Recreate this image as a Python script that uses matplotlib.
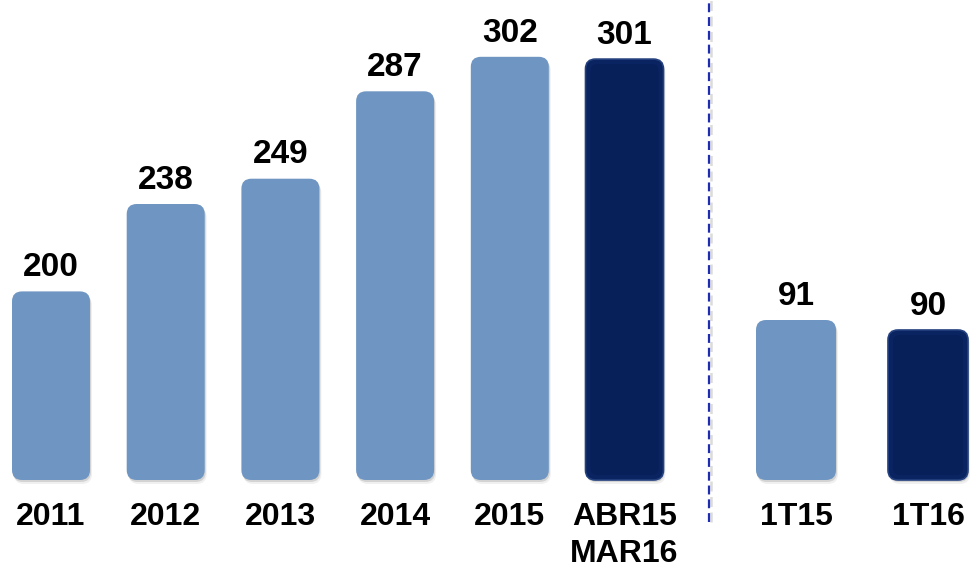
import matplotlib.pyplot as plt
from matplotlib.patches import FancyBboxPatch
from matplotlib.lines import Line2D
import numpy as np

plt.rcParams['font.family'] = ['Liberation Sans', 'DejaVu Sans']

# Série anual (esquerda) e trimestral (direita)
anos = ['2011', '2012', '2013', '2014', '2015', 'ABR15\nMAR16']
valores_anos = [200, 238, 249, 287, 302, 301]
cores_anos = ['#6f96c2', '#6f96c2', '#6f96c2', '#6f96c2', '#6f96c2', '#0a2361']

trimestres = ['1T15', '1T16']
valores_tri = [91, 90]
cores_tri = ['#6f96c2', '#0a2361']

W, H = 972, 570
BASE_PX = 480  # linha de base das barras (px a partir do topo)


def barras_arredondadas(ax, labels, valores, cores, base, largura):
    x = np.arange(len(valores))
    alturas = np.array(valores) - base
    bars = ax.bar(x, alturas, bottom=base, width=largura, color=cores)

    # tamanho de 1 px em unidades de dados, para os cantos arredondados
    inv = ax.transData.inverted()
    p0 = inv.transform((0, 0))
    p1 = inv.transform((1, 1))
    ux, uy = p1 - p0
    estilo = f"round,pad=0,rounding_size={10 * ux}"
    aspect = uy / ux

    for b, cor, val in zip(bars, cores, valores):
        x0, y0 = b.get_x(), b.get_y()
        w, h = b.get_width(), b.get_height()
        b.remove()
        # sombra suave
        for k, a in [(2, 0.16), (4, 0.08)]:
            ax.add_patch(FancyBboxPatch((x0 + 0.5 * k * ux, y0 - k * uy), w, h,
                                        boxstyle=estilo, mutation_aspect=aspect,
                                        fc='#404040', ec='none', alpha=a,
                                        zorder=1, clip_on=False))
        ax.add_patch(FancyBboxPatch((x0, y0), w, h, boxstyle=estilo,
                                    mutation_aspect=aspect, fc=cor, ec='none',
                                    zorder=2, clip_on=False))
        if cor == '#0a2361':
            # brilho do bisel nas barras escuras
            ax.add_patch(FancyBboxPatch((x0 + 5 * ux, y0 + 5 * uy), w - 10 * ux, h - 10 * uy,
                                        boxstyle=f"round,pad=0,rounding_size={7 * ux}",
                                        mutation_aspect=aspect, fc='#08205a', ec='none',
                                        zorder=3, clip_on=False))
            ax.add_patch(FancyBboxPatch((x0, y0), w, h, boxstyle=estilo,
                                        mutation_aspect=aspect, fc='none', ec='#24407e',
                                        lw=1.2, zorder=3, clip_on=False))
        ax.annotate(f'{val}', (x0 + w / 2, y0 + h), xytext=(0, 11),
                    textcoords='offset points', ha='center', va='baseline',
                    fontsize=24, fontweight='bold', color='black')

    ax.set_xticks(x, labels)
    ax.tick_params(axis='x', length=0, pad=16, labelsize=23)
    for t in ax.get_xticklabels():
        t.set_fontweight('bold')
        t.set_linespacing(1.3)
    ax.set_yticks([])
    for s in ax.spines.values():
        s.set_visible(False)
    ax.patch.set_alpha(0)


fig = plt.figure(figsize=(W / 100, H / 100), dpi=100)
fig.patch.set_facecolor('white')

fundo = (H - BASE_PX) / H
alto = BASE_PX / H

# grupo anual
ax1 = fig.add_axes([0, fundo, 700 / W, alto])
esp1 = 114.7
ax1.set_xlim(-51 / esp1, (700 - 51) / esp1)
base1 = 118
ax1.set_ylim(base1, base1 + BASE_PX / 2.3)
barras_arredondadas(ax1, anos, valores_anos, cores_anos, base1, 78 / esp1)

# grupo trimestral
ax2 = fig.add_axes([709 / W, fundo, (W - 709) / W, alto])
esp2 = 132
ax2.set_xlim((709 - 796) / esp2, (W - 796) / esp2)
base2 = 75
ax2.set_ylim(base2, base2 + BASE_PX / 10)
barras_arredondadas(ax2, trimestres, valores_tri, cores_tri, base2, 80 / esp2)

# separador tracejado
xs = 709 / W
fig.add_artist(Line2D([xs + 2 / W, xs + 2 / W], [48 / H, 1], transform=fig.transFigure,
                      color='#9a9a9a', alpha=0.35, lw=1.8, ls=(0, (4, 2.2))))
fig.add_artist(Line2D([xs, xs], [48 / H, 1], transform=fig.transFigure,
                      color='#1f2db0', lw=1.6, ls=(0, (4, 2.2))))

fig.savefig('out.png', dpi=100)
